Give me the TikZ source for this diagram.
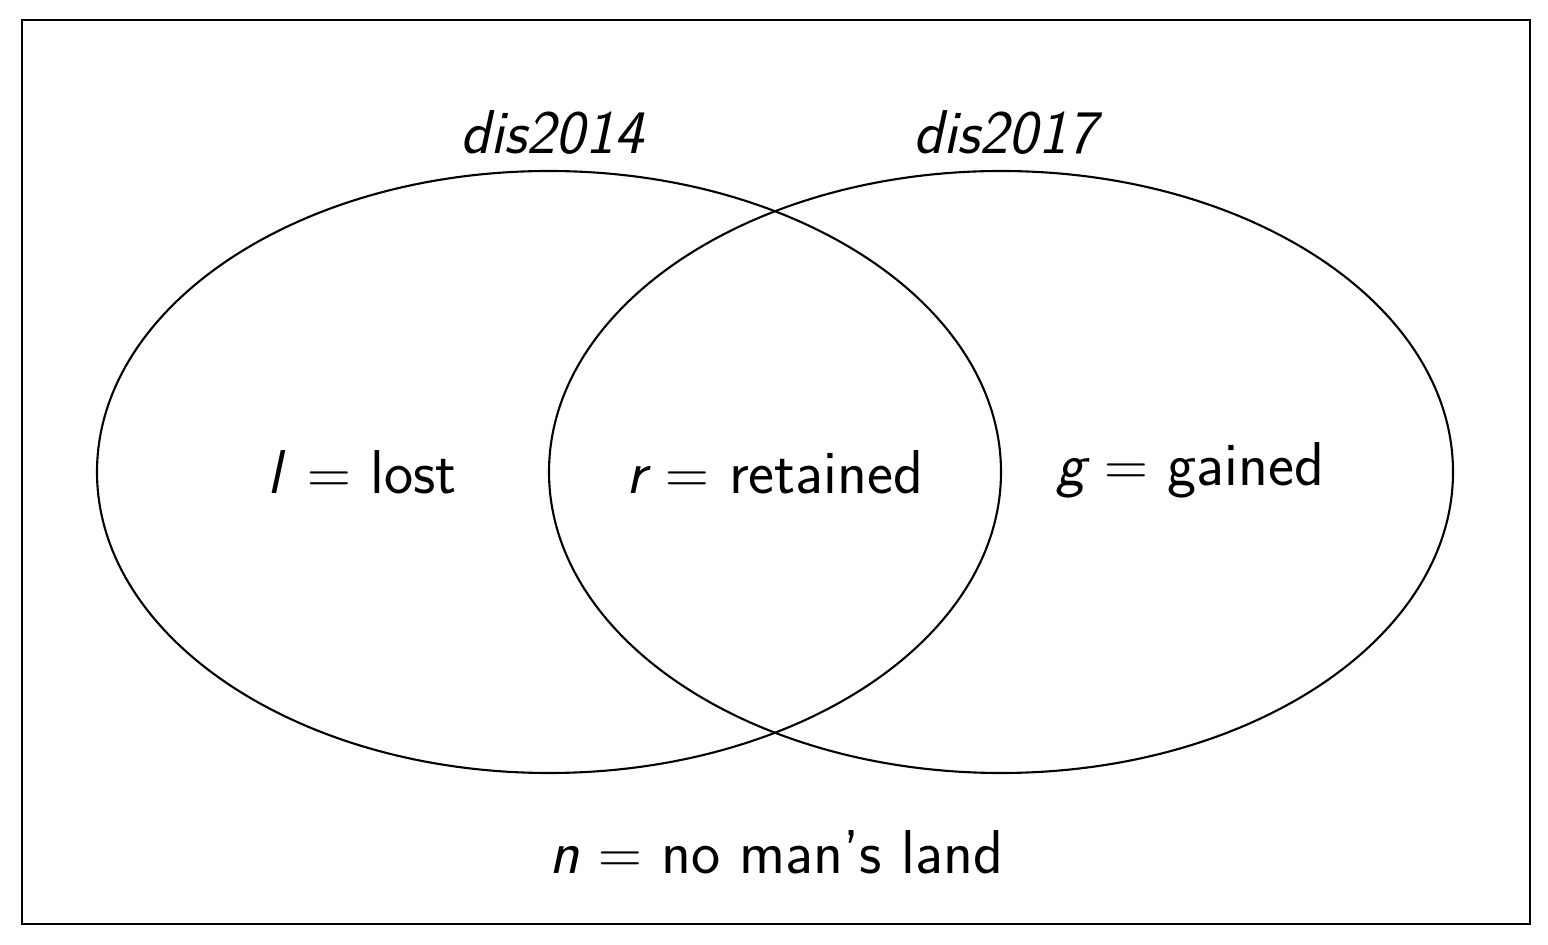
\documentclass[tikz,border=0pt]{standalone}
\usetikzlibrary{shapes.geometric}
\tikzset{
  setshape/.style={draw, ellipse, line width=0.6pt, minimum width=9.04cm, minimum height=6.02cm, inner sep=0pt},
  lbl/.style={font=\fontsize{17.6}{21}\selectfont\sffamily, inner sep=0pt},
}
\newcommand{\vi}[1]{{\sffamily\itshape #1}}
\begin{document}
\begin{tikzpicture}
\useasboundingbox (0,0) rectangle (15.48,9.44);
\node[draw, line width=0.6pt, minimum width=15.08cm, minimum height=9.04cm, inner sep=0pt] (frame) at (7.76,4.72) {};
\node[setshape] (A) at (5.49,4.72) {};
\node[setshape] (B) at (10.01,4.72) {};
\node[lbl] (tA) at (5.52,8.11) {\vi{dis2014}};
\node[lbl] (tB) at (10.05,8.11) {\vi{dis2017}};
\node[lbl] (l) at (3.62,4.72) {\vi{l}\hspace{0.12em} $=$ lost};
\node[lbl] (r) at (7.75,4.72) {\vi{r} $=$ retained};
\node[lbl] (g) at (11.90,4.74) {\vi{g} $=$ gained};
\node[lbl] (n) at (7.76,0.92) {\vi{n} $=$ no man's land};
\end{tikzpicture}
\end{document}
